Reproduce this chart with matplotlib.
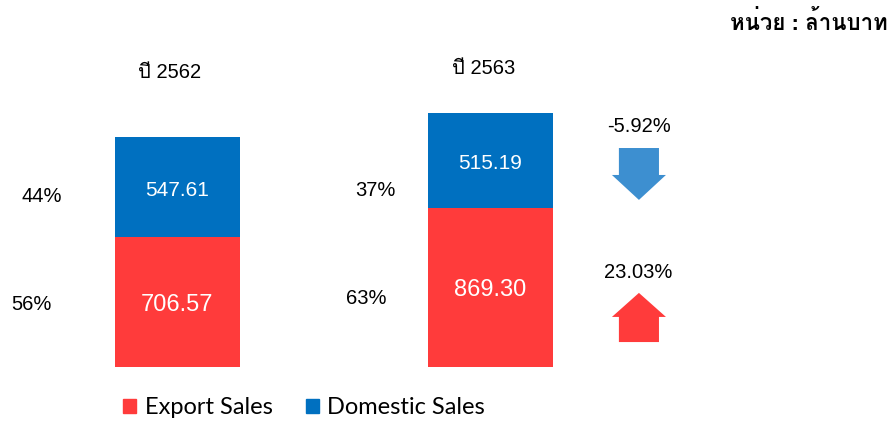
import numpy as np
import matplotlib
matplotlib.use("Agg")
import matplotlib.pyplot as plt
from matplotlib import font_manager
from matplotlib.ft2font import FT2Font
from matplotlib.patches import FancyArrow, Patch

# Sales by year (million baht)
years = ["ปี 2562", "ปี 2563"]
export_sales = [706.57, 869.30]
domestic_sales = [547.61, 515.19]
export_share = ["56%", "63%"]
domestic_share = ["44%", "37%"]
domestic_change = "-5.92%"
export_change = "23.03%"

RED = "#FF3B3B"
BLUE = "#0070C0"
ARROW_BLUE = "#3D8FD0"


def thai_family():
    # first installed font that carries Thai glyphs (U+0E01..)
    seen = set()
    for f in font_manager.fontManager.ttflist:
        if f.fname in seen:
            continue
        seen.add(f.fname)
        try:
            cmap = FT2Font(f.fname).get_charmap()
        except Exception:
            continue
        if 0x0E1A in cmap and 0x0E2B in cmap:
            return f.name
    return None


families = ["Liberation Sans"]
th = thai_family()
if th:
    families.append(th)
families.append("DejaVu Sans")
plt.rcParams["font.family"] = families

fig = plt.figure(figsize=(8.9, 4.21), dpi=100)
# axes runs from the bar baseline to the top of the figure
ax = fig.add_axes([0, 54 / 421, 1, 367 / 421])
ax.set_xlim(-0.567, 2.276)
ax.set_ylim(0, 2001)
ax.axis("off")

x = np.arange(len(years))
w = 0.4
ax.bar(x, export_sales, w, color=RED)
ax.bar(x, domestic_sales, w, bottom=export_sales, color=BLUE)

for i in x:
    ax.text(i, export_sales[i] / 2 - 15, f"{export_sales[i]:.2f}", color="white",
            ha="center", va="center", fontsize=17)
    ax.text(i, export_sales[i] + domestic_sales[i] / 2 - 17, f"{domestic_sales[i]:.2f}",
            color="white", ha="center", va="center", fontsize=15)

# share labels to the left of each bar
export_share_pos = [(-0.465, 343), (0.604, 376)]
domestic_share_pos = [(-0.433, 927), (0.631, 965)]
for i in x:
    ax.text(*export_share_pos[i], export_share[i], ha="center", va="center", fontsize=14.5)
    ax.text(*domestic_share_pos[i], domestic_share[i], ha="center", va="center", fontsize=14.5)

# year captions above bars
year_pos = [(-0.024, 1603), (0.979, 1625)]
for i in x:
    ax.text(*year_pos[i], years[i], ha="center", va="center", fontsize=14.5)

# change arrows
ax.text(1.474, 1309, domestic_change, ha="center", va="center", fontsize=14.5)
ax.text(1.471, 513, export_change, ha="center", va="center", fontsize=14.5)
ax.add_patch(FancyArrow(1.474, 1194, 0, -283, width=0.128, head_width=0.1725,
                        head_length=136, length_includes_head=True,
                        color=ARROW_BLUE, lw=0))
ax.add_patch(FancyArrow(1.474, 136, 0, 268, width=0.128, head_width=0.1725,
                        head_length=131, length_includes_head=True,
                        color=RED, lw=0))

fig.text(0.998, 0.945, "หน่วย : ล้านบาท", ha="right", va="center",
         fontsize=16, fontweight="bold")

handles = [Patch(color=RED), Patch(color=BLUE)]
fig.legend(handles, ["Export Sales", "Domestic Sales"], loc="center",
           bbox_to_anchor=(304 / 890, 1 - 408 / 421), ncol=2, frameon=False,
           prop={"family": "Lato", "size": 17}, handlelength=0.55,
           handleheight=0.55, handletextpad=0.35, columnspacing=1.4)

fig.savefig("out.png", dpi=100)
